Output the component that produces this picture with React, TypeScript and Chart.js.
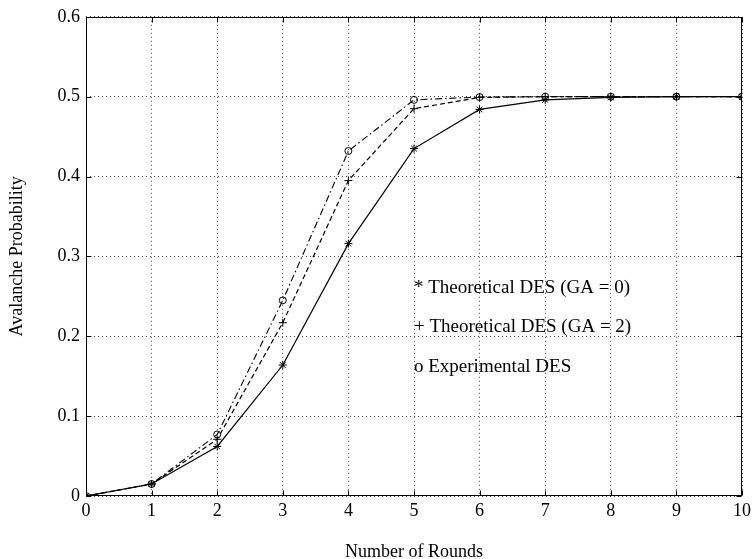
import React, { useEffect, useRef } from "react";
import { Chart, registerables } from "chart.js";

Chart.register(...registerables);

const rounds = [0, 1, 2, 3, 4, 5, 6, 7, 8, 9, 10];
const theoreticalGA0 = [0, 0.015, 0.062, 0.164, 0.316, 0.435, 0.484, 0.496, 0.499, 0.5, 0.5];
const theoreticalGA2 = [0, 0.015, 0.071, 0.217, 0.395, 0.485, 0.499, 0.5, 0.5, 0.5, 0.5];
const experimental = [0, 0.015, 0.077, 0.245, 0.432, 0.496, 0.4995, 0.5, 0.5, 0.5, 0.5];

const xTickValues = [0, 1, 2, 3, 4, 5, 6, 7, 8, 9, 10];
const yTickValues = [0, 0.1, 0.2, 0.3, 0.4, 0.5, 0.6];
const yTickLabels = ["0", "0.1", "0.2", "0.3", "0.4", "0.5", "0.6"];

const legendLabels = [
  "* Theoretical DES (GA = 0)",
  "+ Theoretical DES (GA = 2)",
  "o Experimental DES",
];
const legendAnchorX = 5;
const legendAnchorY = [0.261, 0.211, 0.161];

const FONT = '"Liberation Serif", "Times New Roman", serif';

const framePlugin = {
  id: "frameAndNotes",
  afterDraw(chart: any) {
    const { ctx, chartArea, scales } = chart;
    const { left, right, top, bottom } = chartArea;
    const xs = scales.x;
    const ys = scales.y;
    ctx.save();
    ctx.strokeStyle = "#000";
    ctx.lineWidth = 1;
    const L = Math.round(left) + 0.5;
    const R = Math.round(right) - 0.5;
    const T = Math.round(top) + 0.5;
    const B = Math.round(bottom) - 0.5;
    ctx.strokeRect(L, T, R - L, B - T);
    const tl = 5;
    ctx.beginPath();
    xTickValues.forEach((v) => {
      const px = Math.round(xs.getPixelForValue(v)) + 0.5;
      ctx.moveTo(px, B);
      ctx.lineTo(px, B - tl);
      ctx.moveTo(px, T);
      ctx.lineTo(px, T + tl);
    });
    yTickValues.forEach((v) => {
      const py = Math.round(ys.getPixelForValue(v)) + 0.5;
      ctx.moveTo(L, py);
      ctx.lineTo(L + tl, py);
      ctx.moveTo(R, py);
      ctx.lineTo(R - tl, py);
    });
    ctx.stroke();

    ctx.fillStyle = "#000";
    ctx.font = "19px " + FONT;
    ctx.textBaseline = "middle";
    ctx.textAlign = "left";
    legendLabels.forEach((t, i) => {
      ctx.fillText(t, xs.getPixelForValue(legendAnchorX), ys.getPixelForValue(legendAnchorY[i]));
    });
    ctx.restore();
  },
};

export default function App() {
  const ref = useRef<HTMLCanvasElement | null>(null);

  useEffect(() => {
    if (!ref.current) return;
    const toPts = (arr: number[]) => rounds.map((r, i) => ({ x: r, y: arr[i] }));
    const chart = new Chart(ref.current, {
      type: "line",
      data: {
        datasets: [
          {
            label: "Theoretical DES (GA = 0)",
            data: toPts(theoreticalGA0),
            borderColor: "#000",
            borderWidth: 1.2,
            pointStyle: "star",
            pointRadius: 4,
            pointBorderColor: "#000",
            pointBorderWidth: 1,
            pointBackgroundColor: "rgba(0,0,0,0)",
            tension: 0,
          },
          {
            label: "Theoretical DES (GA = 2)",
            data: toPts(theoreticalGA2),
            borderColor: "#000",
            borderWidth: 1.2,
            borderDash: [5, 3],
            pointStyle: "cross",
            pointRadius: 4,
            pointBorderColor: "#000",
            pointBorderWidth: 1,
            pointBackgroundColor: "rgba(0,0,0,0)",
            tension: 0,
          },
          {
            label: "Experimental DES",
            data: toPts(experimental),
            borderColor: "#000",
            borderWidth: 1.1,
            borderDash: [7, 3, 1.5, 3],
            pointStyle: "circle",
            pointRadius: 3.5,
            pointBorderColor: "#000",
            pointBorderWidth: 1,
            pointBackgroundColor: "rgba(0,0,0,0)",
            tension: 0,
          },
        ],
      },
      options: {
        animation: false,
        responsive: true,
        maintainAspectRatio: false,
        layout: { padding: { left: 0, right: 10, top: 16, bottom: 0 } },
        plugins: {
          legend: { display: false },
          tooltip: { enabled: false },
        },
        scales: {
          x: {
            type: "linear",
            min: 0,
            max: 10,
            afterFit: (s: any) => {
              s.height = 63;
            },
            afterBuildTicks: (s: any) => {
              s.ticks = xTickValues.map((v) => ({ value: v }));
            },
            ticks: {
              color: "#000",
              font: { family: FONT, size: 18 },
              padding: 4,
              maxRotation: 0,
              autoSkip: false,
              callback: (v: any) => String(v),
            },
            grid: {
              color: "#444",
              lineWidth: 1,
              drawTicks: false,
            },
            border: { display: false, dash: [1, 3] },
            title: {
              display: true,
              text: "Number of Rounds",
              color: "#000",
              font: { family: FONT, size: 18, lineHeight: 0.8 },
              padding: { top: 0, bottom: 0 },
            },
          },
          y: {
            type: "linear",
            min: 0,
            max: 0.6,
            afterFit: (s: any) => {
              s.width = 86;
            },
            afterBuildTicks: (s: any) => {
              s.ticks = yTickValues.map((v) => ({ value: v }));
            },
            ticks: {
              color: "#000",
              font: { family: FONT, size: 18 },
              padding: 6,
              autoSkip: false,
              callback: (v: any) => {
                const i = yTickValues.findIndex((t) => Math.abs(t - v) < 1e-9);
                return i >= 0 ? yTickLabels[i] : "";
              },
            },
            grid: {
              color: "#444",
              lineWidth: 1,
              drawTicks: false,
            },
            border: { display: false, dash: [1, 3] },
            title: {
              display: true,
              text: "Avalanche Probability",
              color: "#000",
              font: { family: FONT, size: 18, lineHeight: 1.2 },
              padding: { top: 6, bottom: 0 },
            },
          },
        },
      },
      plugins: [framePlugin],
    });
    return () => chart.destroy();
  }, []);

  return (
    <div style={{ position: "absolute", left: 0, top: 0, width: 755, height: 559 }}>
      <canvas ref={ref} />
    </div>
  );
}
